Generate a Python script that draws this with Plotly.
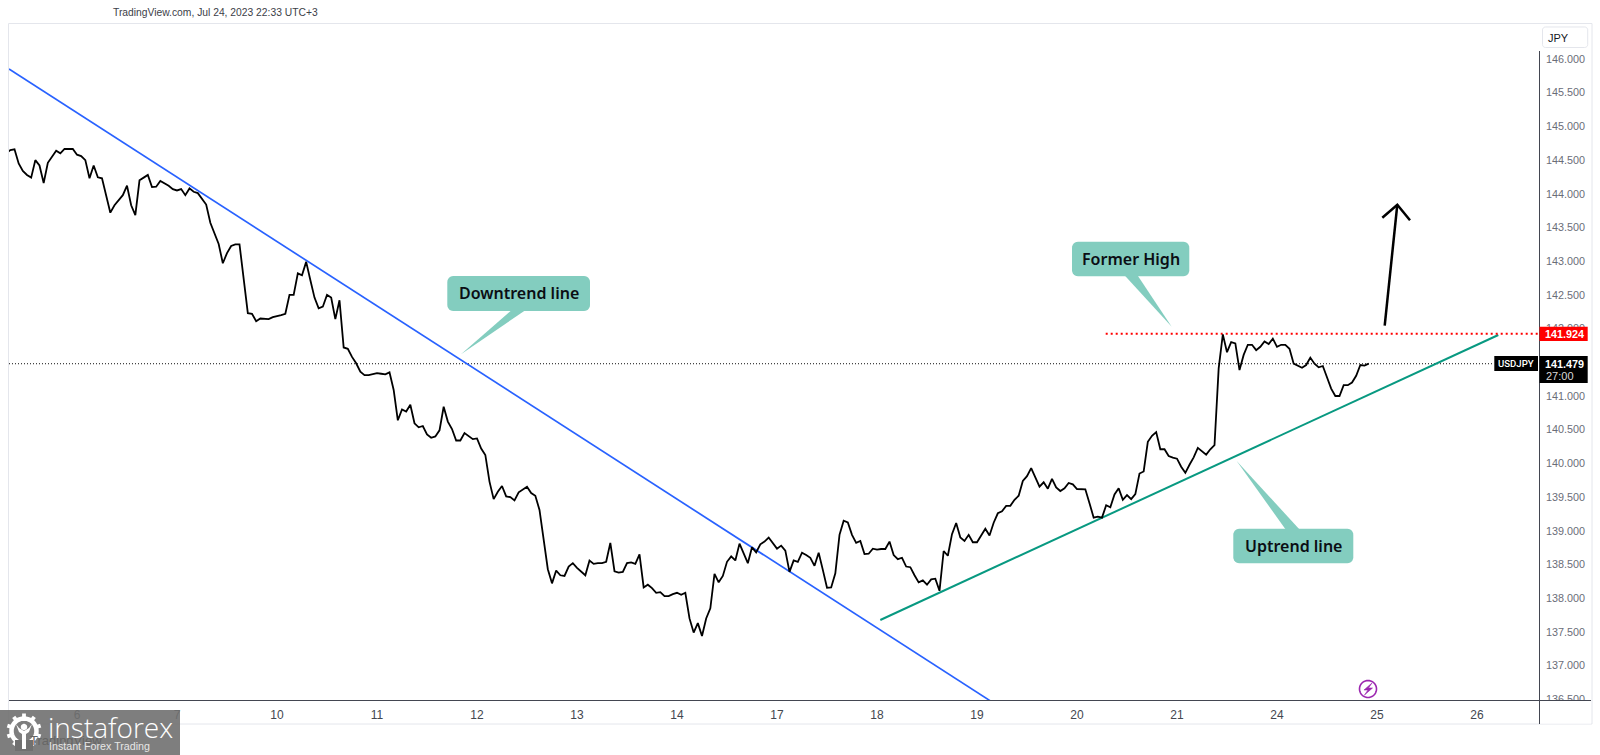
import math
import plotly.graph_objects as go

# ---------- data ----------
session_labels = ["6", "7", "10", "11", "12", "13", "14", "17", "18", "19", "20", "21", "24", "25", "26"]
price_ticks = [136.5, 137, 137.5, 138, 138.5, 139, 139.5, 140, 140.5, 141, 141.5, 142, 142.5, 143, 143.5, 144, 144.5, 145, 145.5, 146]

week_1 = [144.60, 144.65, 144.66, 144.45, 144.34, 144.28, 144.24, 144.50, 144.42, 144.16, 144.46, 144.56, 144.64, 144.60,
          144.665, 144.665, 144.665, 144.58, 144.56, 144.50, 144.23, 144.42, 144.245, 144.23, 143.97, 143.72, 143.83, 143.91,
          143.98, 144.12, 143.83, 143.685, 144.20, 144.24, 144.28, 144.10, 144.105, 144.19, 144.16, 144.12, 144.07, 144.05,
          144.07, 143.98, 144.08, 144.03, 144.01, 143.93, 143.84, 143.57, 143.41, 143.255, 142.97, 143.12, 143.225, 143.25,
          143.25, 142.72, 142.23, 142.22, 142.11, 142.15, 142.14, 142.14, 142.17, 142.18, 142.20, 142.22, 142.50, 142.50,
          142.82, 142.79, 142.99, 142.72, 142.46, 142.30, 142.325, 142.50, 142.46, 142.14, 142.42, 141.72, 141.70, 141.58,
          141.485, 141.36, 141.31, 141.31, 141.32, 141.34, 141.33, 141.32, 141.35, 141.09, 140.64]
week_2 = [140.80, 140.77, 140.87, 140.595, 140.535, 140.555, 140.43, 140.38, 140.40, 140.49, 140.84, 140.62, 140.51, 140.34,
          140.34, 140.45, 140.40, 140.36, 140.37, 140.22, 140.125, 139.73, 139.47, 139.58, 139.665, 139.51, 139.50, 139.45,
          139.57, 139.61, 139.655, 139.56, 139.52, 139.31, 138.86, 138.43, 138.22, 138.41, 138.34, 138.33, 138.47, 138.52,
          138.45, 138.39, 138.34, 138.56, 138.51, 138.52, 138.52, 138.54, 138.82, 138.40, 138.38, 138.39, 138.52, 138.53,
          138.51, 138.65, 138.16, 138.20, 138.15, 138.08, 138.09, 138.03, 138.03, 138.06, 138.08, 138.05, 138.08, 137.70,
          137.49, 137.63, 137.44, 137.70, 137.85, 138.36, 138.235, 138.33, 138.54, 138.62, 138.56, 138.81]
week_3 = [138.665, 138.52, 138.755, 138.68, 138.80, 138.84, 138.90, 138.81, 138.735, 138.78, 138.705, 138.39, 138.56, 138.54,
          138.675, 138.64, 138.60, 138.48, 138.675, 138.42, 138.155, 138.16, 138.37, 138.94, 139.15, 139.125, 138.94, 138.82,
          138.85, 138.655, 138.66, 138.735, 138.72, 138.73, 138.73, 138.84, 138.64, 138.58, 138.60, 138.47, 138.46, 138.34,
          138.235, 138.265, 138.20, 138.28, 138.29, 138.11, 138.70, 138.63, 138.95, 139.115, 138.90, 138.85, 138.94, 138.83,
          138.83, 138.93, 139.03, 138.93, 139.12, 139.26, 139.29, 139.37, 139.37, 139.46, 139.52, 139.74, 139.81, 139.93,
          139.79, 139.655, 139.72, 139.625, 139.77, 139.645, 139.59, 139.63, 139.71, 139.69, 139.62, 139.62, 139.615, 139.41,
          139.195, 139.21]
week_4 = [139.195, 139.38, 139.35, 139.54, 139.63, 139.46, 139.53, 139.47, 139.545, 139.85, 139.88, 140.32, 140.41, 140.465,
          140.21, 140.21, 140.11, 140.085, 140.07, 139.95, 139.86, 139.98, 140.09, 140.23, 140.18, 140.13, 140.21, 140.27,
          141.41, 141.915, 141.65, 141.80, 141.78, 141.385, 141.61, 141.76, 141.76, 141.68, 141.73, 141.81, 141.77, 141.85,
          141.73, 141.76, 141.76, 141.70, 141.48, 141.445, 141.42, 141.46, 141.57, 141.48, 141.425, 141.445, 141.26, 141.11,
          141.00, 141.00, 141.16, 141.16, 141.20, 141.30, 141.46, 141.45, 141.48]
usdjpy = week_1 + week_2 + week_3 + week_4
BARS_PER_SESSION = 24
FIRST_BAR_OFFSET = 17
sessions = [(i - FIRST_BAR_OFFSET) / BARS_PER_SESSION for i in range(len(usdjpy))]

downtrend_x = [-0.68, 9.13]
downtrend_y = [145.852, 136.48]
uptrend_x = [8.033, 14.213]
uptrend_y = [137.677, 141.905]
former_high_x = [10.287, 14.63]
former_high_y = [141.924, 141.924]
last_price = 141.479
former_high = 141.924

# ---------- layout helpers (pixels on the 1600x755 page) ----------
L, R, T, B = 9, 1540, 24, 701
def X(px): return (px - L) / (R - L)
def Y(py): return 1 - (py - T) / (B - T)
def P(points, close=True):
    s = "M " + " L ".join(f"{X(a):.5f},{Y(b):.5f}" for a, b in points)
    return s + (" Z" if close else "")

shapes = []
def add_path(path, fill=None, line=None, width=0, layer="above", opacity=1):
    shapes.append(dict(type="path", xref="paper", yref="paper", path=path, fillcolor=fill or "rgba(0,0,0,0)",
                       line=dict(color=line or "rgba(0,0,0,0)", width=width), layer=layer, opacity=opacity))
def rect(x0, y0, x1, y1, fill=None, line=None, width=0, layer="above"):
    shapes.append(dict(type="rect", xref="paper", yref="paper", x0=X(x0), x1=X(x1), y0=Y(y0), y1=Y(y1),
                       fillcolor=fill or "rgba(0,0,0,0)", line=dict(color=line or "rgba(0,0,0,0)", width=width), layer=layer))
def seg(x0, y0, x1, y1, color, width, layer="above"):
    shapes.append(dict(type="line", xref="paper", yref="paper", x0=X(x0), x1=X(x1), y0=Y(y0), y1=Y(y1),
                       line=dict(color=color, width=width), layer=layer))
def rounded(x0, y0, x1, y1, r, steps=6):
    pts = []
    for cx, cy, a0 in [(x1 - r, y0 + r, -90), (x1 - r, y1 - r, 0), (x0 + r, y1 - r, 90), (x0 + r, y0 + r, 180)]:
        for k in range(steps + 1):
            a = math.radians(a0 + 90 * k / steps)
            pts.append((cx + r * math.cos(a), cy + r * math.sin(a)))
    return pts
def circle_pts(cx, cy, r, n=40):
    return [(cx + r * math.cos(2 * math.pi * k / n), cy + r * math.sin(2 * math.pi * k / n)) for k in range(n)]

TEAL = "#83cdbf"
SANS = "Liberation Sans"
annotations = []
def text(px, py, s, size, color, family="Open Sans", anchor="center", weight=None):
    f = dict(size=size, color=color, family=family)
    if weight: f["weight"] = weight
    annotations.append(dict(xref="paper", yref="paper", x=X(px), y=Y(py), text=s, showarrow=False, font=f,
                            xanchor=anchor, yanchor="middle", align=anchor, borderpad=0, borderwidth=0))

# frame and axis rules
rect(8.5, 23.5, 1592, 724, line="#e4e6ec", width=1, layer="below")
seg(1539.5, 51, 1539.5, 724, "#434651", 1)
rect(1540, 701, 1591, 723.5, fill="white")
seg(9, 700.5, 1591, 700.5, "#434651", 1)

# callouts
def callout(x0, y0, x1, y1, tail):
    add_path(P(rounded(x0, y0, x1, y1, 6)), fill=TEAL)
    add_path(P(tail), fill=TEAL)
callout(447.3, 276, 590, 311, [(511.7, 310), (525.7, 310), (461, 354.3)])
callout(1072, 241.7, 1189.3, 276.3, [(1124.3, 275), (1137.3, 275), (1171.7, 326.7)])
callout(1233.3, 528.7, 1353.3, 563.3, [(1286, 530), (1300, 530), (1236.7, 461)])
CALLOUT_FONT = "Noto Sans"
text(518.5, 293, "Downtrend line", 16, "#0b0e14", CALLOUT_FONT, weight=600)
text(1130.5, 258.5, "Former High", 16, "#0b0e14", CALLOUT_FONT, weight=600)
text(1293.5, 545.5, "Uptrend line", 16, "#0b0e14", CALLOUT_FONT, weight=600)

# hand-drawn arrow
add_path(P([(1384.7, 325.7), (1397.3, 204.7)], close=False), line="black", width=2.5)
add_path(P([(1382.3, 217.7), (1397.3, 204.7), (1410, 220.3)], close=False), line="black", width=2.5)

# price scale tags
rect(1539.5, 326.7, 1587.7, 341, fill="#ff0000")
text(1564.5, 334, "141.924", 10.8, "white", SANS, weight=700)
rect(1539.5, 356, 1587.7, 383, fill="black")
text(1564.5, 363.5, "141.479", 10.8, "white", SANS, weight=700)
text(1546, 376, "27:00", 11, "#d8d8d8", SANS, anchor="left")
rect(1494.3, 356, 1538, 371, fill="black")
text(1516, 363.5, "USDJPY", 9.6, "white", "Roboto", weight=500)
add_path(P(rounded(1542.5, 27, 1587.7, 47.5, 3)), fill="white", line="#e4e6ec", width=1)
text(1558, 38, "JPY", 11, "#131722", SANS)

# header
text(112.5, 13, "TradingView.com, Jul 24, 2023 22:33 UTC+3", 10.3, "#3c4048", SANS, anchor="left")

# lightning badge
add_path(P(circle_pts(1368, 689, 8.5)), line="#9c27b0", width=1.6)
add_path(P([(1372, 683), (1364, 690), (1368, 690), (1364.5, 695), (1372.5, 688), (1368.5, 688)]), fill="#9c27b0", line="#9c27b0", width=0.6)

# instaforex stamp
text(30, 740, "TradingView", 13, "#666666", SANS, anchor="left")
rect(0, 710, 180, 755, fill="rgba(112,112,112,0.9)")
cx, cy = 24, 731
add_path(P(circle_pts(cx, cy, 12.5)), line="white", width=4.5)
for k in range(10):
    a = 2 * math.pi * (k + 0.5) / 10
    add_path(P([(cx + 13 * math.cos(a), cy + 13 * math.sin(a)), (cx + 17.5 * math.cos(a), cy + 17.5 * math.sin(a))], close=False),
             line="white", width=3.8)
rect(cx - 9, cy + 9, cx + 9, cy + 20, fill="#707070")
add_path(P(circle_pts(cx, cy - 4, 3.2)), fill="white")
add_path(P([(cx - 8, cy - 7), (cx - 5, cy + 1), (cx - 2, cy + 3), (cx - 2, cy + 18), (cx + 2, cy + 18), (cx + 2, cy + 3), (cx + 5, cy + 1), (cx + 8, cy - 7), (cx + 5, cy - 3), (cx, cy + 0), (cx - 5, cy - 3)]), fill="white")
text(47.5, 727, "instaforex", 28, "white", "Open Sans", anchor="left", weight=300)
text(48.5, 746, "Instant Forex Trading", 10.7, "#e6e6e6", SANS, anchor="left")

# ---------- figure ----------
fig = go.Figure()
fig.add_trace(go.Scatter(x=[-0.68, 14.17], y=[last_price, last_price], mode="lines",
                         line=dict(color="#111111", width=1, dash="1px,2px"), name="Last price"))
fig.add_trace(go.Scatter(x=downtrend_x, y=downtrend_y, mode="lines", line=dict(color="#2962ff", width=1.7), name="Downtrend"))
fig.add_trace(go.Scatter(x=uptrend_x, y=uptrend_y, mode="lines", line=dict(color="#089981", width=2), name="Uptrend"))
fig.add_trace(go.Scatter(x=former_high_x, y=former_high_y, mode="lines",
                         line=dict(color="#ff0000", width=2, dash="2px,3px"), name="Former high"))
fig.add_trace(go.Scatter(x=sessions, y=usdjpy, mode="lines", line=dict(color="black", width=1.8), name="USDJPY"))

fig.update_layout(
    width=1600, height=755, autosize=False, showlegend=False,
    margin=dict(l=L, r=1600 - R, t=T, b=755 - B, pad=0),
    paper_bgcolor="white", plot_bgcolor="white",
    shapes=shapes, annotations=annotations,
    xaxis=dict(range=[(L - 77) / 100, (R - 77) / 100], tickmode="array", tickvals=list(range(len(session_labels))),
               ticktext=session_labels, showgrid=False, zeroline=False, showline=False, ticks="", ticklabelstandoff=5,
               tickfont=dict(family=SANS, size=12, color="#43474f")),
    yaxis=dict(range=[146 - (B - 59) / 67.4, 146 + (59 - T) / 67.4], side="right", tickmode="array", tickvals=price_ticks,
               tickformat=".3f", showgrid=False, zeroline=False, showline=False, ticks="", ticklabelstandoff=5,
               tickfont=dict(family=SANS, size=10.8, color="#6a6d78")),
)
fig.write_html("out.html", config={"displayModeBar": False},
               post_script='document.body.style.margin="0";document.documentElement.style.overflow="hidden";')
